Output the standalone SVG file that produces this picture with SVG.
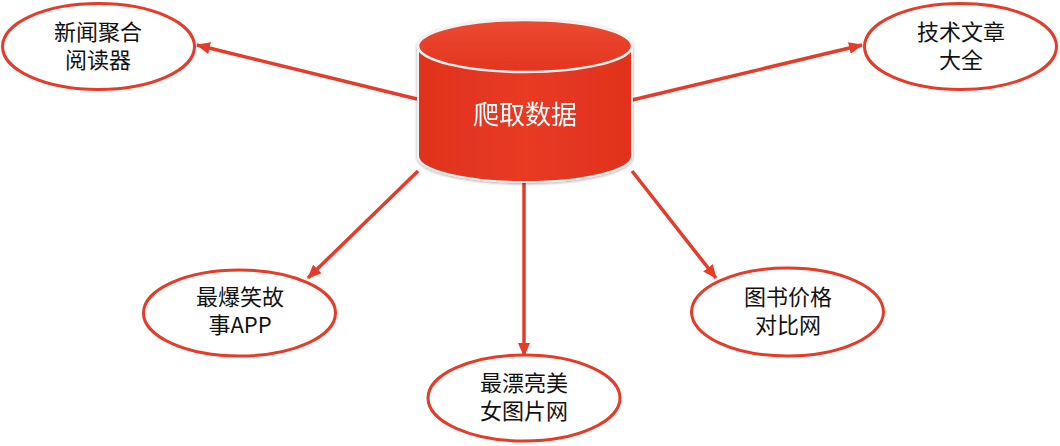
<svg xmlns="http://www.w3.org/2000/svg" width="1060" height="446" viewBox="0 0 1060 446">
<style>
.node ellipse{fill:#fff;stroke:#e63b28;stroke-width:3}
.lbl{font-family:"Microsoft YaHei","Noto Sans CJK SC","Noto Sans",sans-serif;font-size:22px;fill:#111;text-anchor:middle}
.conn line{stroke:#e63b28;stroke-width:3.5;marker-end:url(#ah)}
.main{font-family:"Noto Sans CJK SC",sans-serif;font-size:26px;fill:#fff;text-anchor:middle}
</style>
<defs>
<marker id="ah" viewBox="0 0 14 12" refX="13" refY="6" markerWidth="14" markerHeight="12" markerUnits="userSpaceOnUse" orient="auto">
<path d="M0,0 L14,6 L0,12 z" fill="#e63b28"/>
</marker>
<linearGradient id="body" x1="0" y1="0" x2="1" y2="0">
<stop offset="0" stop-color="#e0321d"/>
<stop offset="0.5" stop-color="#e83a24"/>
<stop offset="1" stop-color="#e0321d"/>
</linearGradient>
<linearGradient id="top" x1="0" y1="0" x2="0" y2="1">
<stop offset="0" stop-color="#ec4a30"/>
<stop offset="1" stop-color="#e33520"/>
</linearGradient>
<filter id="sh" x="-10%" y="-10%" width="120%" height="120%">
<feGaussianBlur in="SourceAlpha" stdDeviation="1.5"/>
<feOffset dx="0" dy="1"/>
<feComponentTransfer><feFuncA type="linear" slope="0.35"/></feComponentTransfer>
<feMerge><feMergeNode/><feMergeNode in="SourceGraphic"/></feMerge>
</filter>
</defs>
<rect width="1060" height="446" fill="#fff"/>
<g class="conn">
<line x1="417" y1="99" x2="197" y2="45"/>
<line x1="632" y1="100" x2="862" y2="45"/>
<line x1="418" y1="171" x2="308" y2="278"/>
<line x1="524" y1="182" x2="524" y2="356"/>
<line x1="632" y1="171" x2="716" y2="278"/>
</g>
<g id="db" filter="url(#sh)">
<path d="M418,46 L418,156 A107,26 0 0 0 632,156 L632,46 Z" fill="url(#body)" stroke="#f2f2f2" stroke-width="2"/>
<ellipse cx="525" cy="46" rx="107" ry="26" fill="url(#top)" stroke="#f2f2f2" stroke-width="2.5"/>
<text class="main" x="525" y="124">爬取数据</text>
</g>
<g id="n1" class="node">
<ellipse cx="98.5" cy="46.5" rx="96" ry="43"/>
<text class="lbl" x="98" y="40">新闻聚合</text>
<text class="lbl" x="98" y="68">阅读器</text>
</g>
<g id="n2" class="node">
<ellipse cx="960.5" cy="46.5" rx="96" ry="43"/>
<text class="lbl" x="961" y="40">技术文章</text>
<text class="lbl" x="961" y="68">大全</text>
</g>
<g id="n3" class="node">
<ellipse cx="239.5" cy="313" rx="96" ry="43"/>
<text class="lbl" x="240" y="305">最爆笑故</text>
<text class="lbl" x="240" y="333">事APP</text>
</g>
<g id="n4" class="node">
<ellipse cx="524" cy="398" rx="96" ry="43"/>
<text class="lbl" x="524" y="391">最漂亮美</text>
<text class="lbl" x="524" y="419">女图片网</text>
</g>
<g id="n5" class="node">
<ellipse cx="787.5" cy="312" rx="96" ry="44"/>
<text class="lbl" x="788" y="305">图书价格</text>
<text class="lbl" x="788" y="333">对比网</text>
</g>
</svg>
